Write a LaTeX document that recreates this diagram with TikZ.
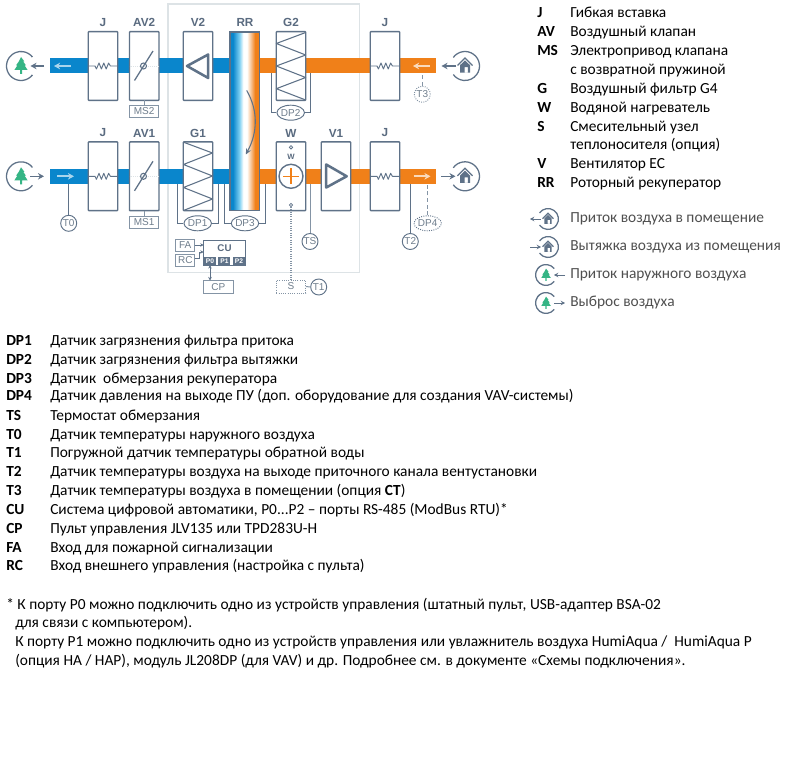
\documentclass[tikz,border=0pt]{standalone}
\usepackage{fontspec}
\setmainfont{Carlito}
\newfontfamily\lblfont{Liberation Sans}
\usetikzlibrary{arrows.meta,shapes.geometric}
\definecolor{slate}{HTML}{5F7288}
\definecolor{slatelt}{HTML}{8494A5}
\definecolor{lbl}{HTML}{5A6B80}
\definecolor{lblgray}{HTML}{6E7D8C}
\definecolor{bblue}{HTML}{0A86CC}
\definecolor{borange}{HTML}{F08019}
\definecolor{treeg}{HTML}{35B585}
\definecolor{frame}{HTML}{DDE3E6}
\definecolor{legtxt}{HTML}{4F4F4F}
\definecolor{rrcyan}{HTML}{7FD0F2}
\definecolor{rrpeach}{HTML}{F8C79A}
\pgfdeclarehorizontalshading{rrshade}{100bp}{color(0bp)=(bblue); color(30bp)=(bblue); color(41bp)=(rrcyan); color(47.5bp)=(white); color(53.5bp)=(white); color(60bp)=(rrpeach); color(67.5bp)=(borange); color(100bp)=(borange)}
\tikzset{
  sz/.style 2 args={minimum width=#1*0.75pt,minimum height=#2*0.75pt,inner sep=0pt,outer sep=0pt},
  unit/.style={sz={29.5}{68.7},draw=slate,line width=1.05pt,fill=white,rounded corners=0.5pt},
  bar/.style={inner sep=0pt,outer sep=0pt,minimum height=15*0.75pt},
  head/.style={font=\lblfont\bfseries\fontsize{8.8pt}{10pt}\selectfont,text=lbl,inner sep=0pt},
  small/.style={font=\lblfont\fontsize{7.5pt}{9pt}\selectfont,text=lblgray,inner sep=0pt},
  smbox/.style={small,draw=slatelt,line width=.7pt,fill=white},
  ring/.style={small,circle,draw=slate,line width=.7pt,fill=white,minimum size=16*0.75pt},
  oval/.style={small,ellipse,draw=slate,line width=.7pt,fill=white,minimum width=24*0.75pt,minimum height=15*0.75pt},
  conn/.style={draw=slatelt,line width=.75pt},
  inner/.style={draw=slate,line width=.8pt},
  flow/.style={line width=1.4pt,-{Stealth[length=4.6pt,width=5pt]}},
  iconarrow/.style={draw=slate,line width=.95pt,-{Stealth[length=4.5pt,width=4.8pt]}},
  txt/.style={font=\fontsize{11.55pt}{13pt}\selectfont,anchor=base west,inner sep=0pt,text=black},
  key/.style={txt,font=\fontsize{11.55pt}{13pt}\selectfont\bfseries},
  leg/.style={txt,font=\fontsize{11.55pt}{13pt}\selectfont,text=legtxt},
  treeic/.pic={
    \draw[slate,line width=.95pt] (38:14.5) arc (38:322:14.5);
    \fill[treeg] (0,-9)--(3.4,-4.5)--(2.2,-4.5)--(5,-.6)--(3.6,-.6)--(6.6,4)--(1,4)--(1,8)--(-1,8)--(-1,4)--(-6.6,4)--(-3.6,-.6)--(-5,-.6)--(-2.2,-4.5)--cycle;
  },
  houseic/.pic={
    \draw[slate,line width=.95pt] (-144:14.5) arc (-144:144:14.5);
    \draw[slate,line width=1pt,line join=miter] (-7.5,-.5)--(0,-8)--(7.5,-.5);
    \fill[slate,even odd rule] (-5,-.8)--(0,-5.6)--(5,-.8)--(5,6.7)--(-5,6.7)--cycle (-.4,1.2) rectangle (2.9,6.7);
  },
}
\begin{document}
\begin{tikzpicture}[x=0.75pt,y=-0.75pt]
\useasboundingbox (0,0) rectangle (800,777);
\fill[white] (0,0) rectangle (800,777);
% housing
\draw[frame,line width=.9pt] (168,4) rectangle (359.5,272.7);
% air bars
\node[bar,fill=bblue,minimum width=180.5*0.75pt] (bartl) at (139.75,66) {};
\node[bar,fill=borange,minimum width=177*0.75pt] (bartr) at (347.5,66) {};
\node[bar,fill=bblue,minimum width=180.5*0.75pt] (barbl) at (139.75,176.3) {};
\node[bar,fill=borange,minimum width=177*0.75pt] (barbr) at (347.5,176.3) {};
% flow arrows in bars
\coordinate (f1s) at (71,66); \coordinate (f1e) at (54,66);
\coordinate (f2s) at (57,176.3); \coordinate (f2e) at (74,176.3);
\coordinate (f3s) at (430,66); \coordinate (f3e) at (413,66);
\coordinate (f4s) at (413.5,176.3); \coordinate (f4e) at (430.5,176.3);
\draw[flow,color=bblue!35!white] (f1s)--(f1e);
\draw[flow,color=bblue!35!white] (f2s)--(f2e);
\draw[flow,color=borange!30!white] (f3s)--(f3e);
\draw[flow,color=borange!30!white] (f4s)--(f4e);
% upper row units
\node[unit] (j2) at (103,66) {};
\node[unit] (av2) at (144.2,66) {};
\node[unit] (v2) at (198,66) {};
\node[unit] (g2) at (291,66) {};
\node[unit] (j3) at (385,66) {};
% lower row units
\node[unit] (j1) at (103,176.3) {};
\node[unit] (av1) at (144.2,176.3) {};
\node[unit] (g1) at (198,176.3) {};
\node[unit] (w) at (291,176.3) {};
\node[unit] (v1) at (336,176.3) {};
\node[unit] (j4) at (385,176.3) {};
% recuperator
\path[shading=rrshade] (230,32) rectangle (259.5,210.7);
\draw[slate,line width=1.05pt] (230,32) rectangle (259.5,210.7);
\node[inner sep=0pt,minimum size=0pt] (rr) at (244.7,121) {};
\draw[slate,line width=.8pt,-{Stealth[length=4.5pt,width=4pt]}] (246.7,90.5) .. controls (258,110) and (258,132) .. (245.8,154.5);
% headers
\node[head] (hj2) at (103,22.5) {J};
\node[head] (hav2) at (144.2,22.5) {AV2};
\node[head] (hv2) at (198,22.5) {V2};
\node[head] (hrr) at (245,22.5) {RR};
\node[head] (hg2) at (291,22.5) {G2};
\node[head] (hj3) at (385,22.5) {J};
\node[head] (hj1) at (103,133) {J};
\node[head] (hav1) at (144.2,133) {AV1};
\node[head] (hg1) at (198,133) {G1};
\node[head] (hw) at (291,133) {W};
\node[head] (hv1) at (336,133) {V1};
\node[head] (hj4) at (385,133) {J};
% flexible inserts
\foreach \yy in {66,176.3}{
  \foreach \xc in {103,385}{
    \draw[inner,line width=.7pt,line join=round] (\xc-15,\yy)--(\xc-8,\yy)--(\xc-6.6,\yy+3)--(\xc-4,\yy-3)--(\xc-1.6,\yy+3)--(\xc+.8,\yy-3)--(\xc+3.2,\yy+3)--(\xc+5.6,\yy-3)--(\xc+7.4,\yy)--(\xc+15,\yy);
  }
  % dampers
  \draw[frame,line width=.4pt,densely dotted] (129.5,\yy)--(159,\yy);
  \draw[inner,line width=.95pt] (134.5,\yy+14.5)--(153,\yy-15);
  \draw[inner,line width=.8pt] (143.5,\yy) circle (3);
}
% fans
\draw[slate,line width=1.9pt,line join=round] (187,66)--(208.2,54.5)--(208.2,78)--cycle;
\draw[slate,line width=1.9pt,line join=round] (346.7,176.3)--(326.2,164.5)--(326.2,187.5)--cycle;
% filters
\draw[inner,line join=round] (305.7,32.5)--(276.3,43.5)--(305.7,55)--(276.3,66)--(305.7,77.5)--(276.3,88.7)--(305.7,100);
\draw[inner,line join=round] (183.5,142.2)--(212.5,153)--(183.5,164.5)--(212.5,176)--(183.5,187.5)--(212.5,199)--(183.5,210.5);
% damper actuators
\node[smbox,sz={29.5}{12}] (ms2) at (144.2,111) {MS2};
\node[smbox,sz={29.5}{12}] (ms1) at (144.2,222) {MS1};
\draw[conn] (av2.south)--(ms2.north);
\draw[conn] (av1.south)--(ms1.north);
% heater
\node[circle,draw=slate,line width=1.05pt,fill=white,minimum size=24*0.75pt,inner sep=0pt] (wc) at (291,176.3) {};
\draw[borange,line width=1pt] (wc.center)+(-8,0)--+(8,0) (wc.center)+(0,-8)--+(0,8);
\node[circle,draw=slate,line width=.55pt,fill=white,minimum size=3.4*0.75pt,inner sep=0pt] (wtop) at (291,147.3) {};
\node[head,font=\lblfont\bfseries\fontsize{5.8pt}{7pt}\selectfont] (wsm) at (291,157) {W};
\node[circle,draw=slate,line width=.55pt,fill=white,minimum size=3.4*0.75pt,inner sep=0pt] (wbot) at (291,205) {};
% sensors on the lower side
\node[oval] (dp2) at (290.7,112.7) {DP2};
\coordinate (dp2l) at (271,73.5); \coordinate (dp2r) at (310,73.5);
\draw[inner,line width=.75pt] (dp2.west)-|(dp2l);
\draw[inner,line width=.75pt] (dp2.east)-|(dp2r);
\node[oval] (dp1) at (197.7,223.3) {DP1};
\coordinate (dp1l) at (177.3,183.8); \coordinate (dp1r) at (218.7,183.8);
\draw[inner,line width=.75pt] (dp1.west)-|(dp1l);
\draw[inner,line width=.75pt] (dp1.east)-|(dp1r);
\node[oval] (dp3) at (245,223.3) {DP3};
\coordinate (dp3l) at (224.3,183.8); \coordinate (dp3r) at (265.3,183.8);
\draw[inner,line width=.75pt] (dp3.west)-|(dp3l);
\draw[inner,line width=.75pt] (dp3.east)-|(dp3r);
\node[ring] (t0) at (68.7,223.3) {T0};
\draw[inner,line width=.75pt] (t0.north)--(t0.north|-barbl.south);
\node[ring] (ts) at (310,241.5) {TS};
\draw[conn] (ts.north)--(ts.north|-barbr.south);
\node[ring] (t2) at (410.3,241.5) {T2};
\draw[inner,line width=.75pt] (t2.north)--(t2.north|-barbr.south);
\node[oval,densely dotted] (dp4) at (427.7,223.3) {DP4};
\draw[conn,densely dashed,line width=.95pt] (dp4.north)--(dp4.north|-barbr.south);
\node[ring,densely dotted,draw=slatelt] (t3) at (422.3,94.3) {T3};
\draw[conn,densely dashed] (t3.north)--(t3.north|-bartr.south);
% mixing unit
\node[smbox,densely dotted,sz={29.5}{13}] (s) at (291,286.5) {S};
\node[ring] (t1) at (318.7,287) {T1};
\draw[conn,densely dotted,line width=.9pt] (wbot.south)--(s.north);
\draw[conn] (s.east)--(t1.west);
% control unit
\node[smbox,sz={18.7}{12}] (fa) at (185.3,245) {FA};
\node[smbox,sz={18.7}{12}] (rc) at (185.3,260.3) {RC};
\node[draw=slate,line width=.75pt,fill=white,sz={41.6}{24.3}] (cu) at (224.5,252.9) {};
\node[head,font=\lblfont\bfseries\fontsize{7.3pt}{9pt}\selectfont] (cut) at (224.5,248) {CU};
\node[fill=slate,text=white,font=\lblfont\bfseries\fontsize{5pt}{6pt}\selectfont,sz={12}{8.5}] (p0) at (210,260.8) {P0};
\node[fill=slate,text=white,font=\lblfont\bfseries\fontsize{5pt}{6pt}\selectfont,sz={12}{8.5}] (p1) at (224.4,260.8) {P1};
\node[fill=slate,text=white,font=\lblfont\bfseries\fontsize{5pt}{6pt}\selectfont,sz={12}{8.5}] (p2) at (238.9,260.8) {P2};
\node[smbox,sz={29.5}{13}] (cp) at (218.3,287) {CP};
\draw[inner,line width=.6pt,-{Stealth[length=2.6pt,width=2.6pt]}] (fa.east)--(fa.east-|cu.west);
\coordinate (rcin) at (203.7,252);
\draw[inner,line width=.6pt,-{Stealth[length=2.6pt,width=2.6pt]}] (rc.east)++(0,-2)-|(199.3,252)--(rcin);
\draw[inner,line width=.6pt,{Stealth[length=2.6pt,width=2.6pt]}-{Stealth[length=2.6pt,width=2.6pt]}] (p0.south)--(p0.south|-cp.north);
% outdoor / room icons
\pic at (21,66) {treeic};
\pic at (21,176.3) {treeic};
\pic at (465,66) {houseic};
\pic at (465,176.3) {houseic};
\coordinate (i1s) at (44,66); \coordinate (i1e) at (30.5,66);
\coordinate (i2s) at (30,176.3); \coordinate (i2e) at (44,176.3);
\coordinate (i3s) at (456,66); \coordinate (i3e) at (441.5,66);
\coordinate (i4s) at (441,176.3); \coordinate (i4e) at (455.5,176.3);
\draw[iconarrow] (i1s)--(i1e);
\draw[iconarrow] (i2s)--(i2e);
\draw[iconarrow] (i3s)--(i3e);
\draw[iconarrow] (i4s)--(i4e);
% legend right
\node[key] (r1k) at (537,18) {J};\node[txt] (r1) at (570,18) {Гибкая вставка};
\node[key] (r2k) at (537,37) {AV};\node[txt] (r2) at (570,37) {Воздушный клапан};
\node[key] (r3k) at (537,56) {MS};\node[txt] (r3) at (570,56) {Электропривод клапана};
\node[txt] (r3b) at (570,75) {с возвратной пружиной};
\node[key] (r4k) at (537,93.5) {G};\node[txt] (r4) at (570,93.5) {Воздушный фильтр G4};
\node[key] (r5k) at (537,112.5) {W};\node[txt] (r5) at (570,112.5) {Водяной нагреватель};
\node[key] (r6k) at (537,131.5) {S};\node[txt] (r6) at (570,131.5) {Смесительный узел};
\node[txt] (r6b) at (570,150) {теплоносителя (опция)};
\node[key] (r7k) at (537,169) {V};\node[txt] (r7) at (570,169) {Вентилятор EC};
\node[key] (r8k) at (537,188) {RR};\node[txt] (r8) at (570,188) {Роторный рекуператор};
% legend icons
\pic[scale=.72] at (548,219) {houseic};
\pic[scale=.72] at (548,247) {houseic};
\pic[scale=.72] at (546,275) {treeic};
\pic[scale=.72] at (546,303) {treeic};
\coordinate (l1s) at (541,219); \coordinate (l1e) at (530,219);
\coordinate (l2s) at (530,247); \coordinate (l2e) at (541,247);
\coordinate (l3s) at (565,275); \coordinate (l3e) at (554,275);
\coordinate (l4s) at (554,303); \coordinate (l4e) at (565,303);
\foreach \a in {1,2,3,4}{\draw[iconarrow,line width=.7pt,-{Stealth[length=3.2pt,width=3.4pt]}] (l\a s)--(l\a e);}
\node[leg] (l1) at (570,223) {Приток воздуха в помещение};
\node[leg] (l2) at (570,251) {Вытяжка воздуха из помещения};
\node[leg] (l3) at (570,279) {Приток наружного воздуха};
\node[leg] (l4) at (570,307) {Выброс воздуха};
% lower list
\node[key] (b1k) at (6,345) {DP1};\node[txt] (b1) at (50,345) {Датчик загрязнения фильтра притока};
\node[key] (b2k) at (6,364) {DP2};\node[txt] (b2) at (50,364) {Датчик загрязнения фильтра вытяжки};
\node[key] (b3k) at (6,383) {DP3};\node[txt] (b3) at (50,383) {Датчик\ \ обмерзания рекуператора};
\node[key] (b4k) at (6,401) {DP4};\node[txt] (b4) at (50,401) {Датчик давления на выходе ПУ (доп. оборудование для создания VAV-системы)};
\node[key] (b5k) at (6,420) {TS};\node[txt] (b5) at (50,420) {Термостат обмерзания};
\node[key] (b6k) at (6,439) {T0};\node[txt] (b6) at (50,439) {Датчик температуры наружного воздуха};
\node[key] (b7k) at (6,457) {T1};\node[txt] (b7) at (50,457) {Погружной датчик температуры обратной воды};
\node[key] (b8k) at (6,476) {T2};\node[txt] (b8) at (50,476) {Датчик температуры воздуха на выходе приточного канала вентустановки};
\node[key] (b9k) at (6,495) {T3};\node[txt] (b9) at (50,495) {Датчик температуры воздуха в помещении (опция \textbf{CT})};
\node[key] (b10k) at (6,514) {CU};\node[txt] (b10) at (50,514) {Система цифровой автоматики, P0...P2 – порты RS-485 (ModBus RTU)*};
\node[key] (b11k) at (6,533) {CP};\node[txt] (b11) at (50,533) {Пульт управления JLV135 или TPD283U-H};
\node[key] (b12k) at (6,552) {FA};\node[txt] (b12) at (50,552) {Вход для пожарной сигнализации};
\node[key] (b13k) at (6,570) {RC};\node[txt] (b13) at (50,570) {Вход внешнего управления (настройка с пульта)};
% footnote
\node[txt] (n1) at (6,609) {* К порту P0 можно подключить одно из устройств управления (штатный пульт, USB-адаптер BSA-02};
\node[txt] (n2) at (15,627) {для связи с компьютером).};
\node[txt] (n3) at (15,646) {К порту P1 можно подключить одно из устройств управления или увлажнитель воздуха HumiAqua /\ \ HumiAqua P};
\node[txt] (n4) at (15,665) {(опция HA / HAP), модуль JL208DP (для VAV) и др. Подробнее см. в документе «Схемы подключения».};
\end{tikzpicture}
\end{document}
